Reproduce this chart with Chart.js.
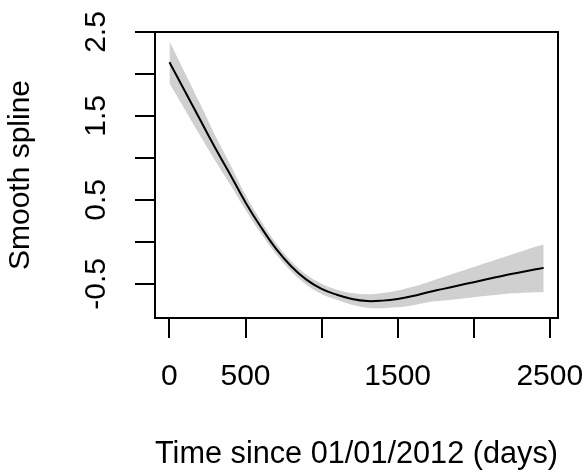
<!DOCTYPE html>
<html lang="en">
<head>
  <meta charset="UTF-8">
  <title>Smooth spline</title>
  <style>
body {
  margin: 0;
  background: #ffffff;
}
.chart-box {
  width: 586px;
  height: 474px;
}
  </style>
</head>
<body>
  <div class="chart-box"><canvas id="splineChart"></canvas></div>

  <script src="https://cdn.jsdelivr.net/npm/chart.js"></script>
  <script>
    // values
    const days = [0, 100, 200, 300, 400, 500, 600, 700, 800, 900, 1000, 1100, 1200,
      1300, 1400, 1500, 1600, 1700, 1800, 1900, 2000, 2100, 2200, 2300, 2400, 2460];
    const fit = [2.14, 1.80, 1.46, 1.12, 0.80, 0.47, 0.18, -0.08, -0.29, -0.45, -0.56, -0.63, -0.68,
      -0.705, -0.70, -0.68, -0.645, -0.60, -0.56, -0.52, -0.48, -0.44, -0.40, -0.365, -0.33, -0.31];
    const upper = [2.39, 2.02, 1.65, 1.27, 0.92, 0.56, 0.255, -0.015, -0.23, -0.39, -0.50, -0.57, -0.61,
      -0.625, -0.61, -0.58, -0.535, -0.48, -0.42, -0.36, -0.30, -0.24, -0.18, -0.12, -0.06, -0.03];
    const lower = [1.89, 1.58, 1.27, 0.97, 0.68, 0.38, 0.105, -0.145, -0.35, -0.51, -0.62, -0.69, -0.75,
      -0.785, -0.79, -0.78, -0.755, -0.72, -0.70, -0.68, -0.66, -0.64, -0.62, -0.61, -0.60, -0.60];

    const xTickValues = [0, 500, 1000, 1500, 2000, 2500];
    const xTickLabels = ['0', '500', '', '1500', '', '2500'];
    const yTickValues = [-0.5, 0, 0.5, 1, 1.5, 2, 2.5];
    const yTickLabels = ['-0.5', '', '0.5', '', '1.5', '', '2.5'];

    const toPoints = (ys) => days.map((d, i) => ({ x: d, y: ys[i] }));

    Chart.defaults.font.family = "'Liberation Sans', Arial, sans-serif";
    Chart.defaults.color = '#000000';

    // box around the plot region, like R's box()
    const plotBox = {
      id: 'plotBox',
      afterDraw(chart) {
        const a = chart.chartArea;
        const ctx = chart.ctx;
        ctx.save();
        ctx.strokeStyle = '#000000';
        ctx.lineWidth = 2;
        ctx.strokeRect(a.left, a.top, a.right - a.left, a.bottom - a.top);
        ctx.restore();
      }
    };

    new Chart(document.getElementById('splineChart').getContext('2d'), {
      type: 'line',
      data: {
        datasets: [
          {
            data: toPoints(upper),
            order: 2,
            borderWidth: 0,
            pointRadius: 0,
            backgroundColor: '#d0d0d0',
            fill: '+1',
            tension: 0.4
          },
          {
            data: toPoints(lower),
            order: 3,
            borderWidth: 0,
            pointRadius: 0,
            fill: false,
            tension: 0.4
          },
          {
            data: toPoints(fit),
            order: 0,
            borderColor: '#000000',
            borderWidth: 2,
            pointRadius: 0,
            fill: false,
            tension: 0.4
          }
        ]
      },
      options: {
        responsive: true,
        maintainAspectRatio: false,
        animation: false,
        layout: { padding: { top: 32, right: 28, left: 0, bottom: 0 } },
        plugins: {
          legend: { display: false },
          tooltip: { enabled: false }
        },
        scales: {
          x: {
            type: 'linear',
            min: -95,
            max: 2554,
            afterFit: (s) => { s.height = 156; s.paddingLeft = 0; s.paddingRight = 0; },
            afterBuildTicks: (s) => { s.ticks = xTickValues.map(v => ({ value: v })); },
            ticks: {
              autoSkip: false,
              maxRotation: 0,
              padding: 21,
              font: { size: 30 },
              color: '#000000',
              callback: (v, i) => xTickLabels[i]
            },
            grid: {
              drawOnChartArea: false,
              tickLength: 20,
              color: '#000000',
              lineWidth: 2
            },
            border: { display: false },
            title: {
              display: true,
              text: 'Time since 01/01/2012 (days)',
              font: { size: 31 },
              color: '#000000',
              padding: { top: 0, bottom: 1 }
            }
          },
          y: {
            type: 'linear',
            min: -0.907,
            max: 2.5,
            afterFit: (s) => { s.width = 155; },
            afterBuildTicks: (s) => { s.ticks = yTickValues.map(v => ({ value: v })); },
            ticks: {
              autoSkip: false,
              minRotation: 90,
              maxRotation: 90,
              crossAlign: 'center',
              padding: 12,
              font: { size: 30 },
              color: '#000000',
              callback: (v, i) => yTickLabels[i]
            },
            grid: {
              drawOnChartArea: false,
              tickLength: 20,
              color: '#000000',
              lineWidth: 2
            },
            border: { display: false },
            title: {
              display: true,
              text: 'Smooth spline',
              font: { size: 30 },
              color: '#000000',
              padding: { top: 3, bottom: 0 }
            }
          }
        }
      },
      plugins: [plotBox]
    });
  </script>
</body>
</html>
